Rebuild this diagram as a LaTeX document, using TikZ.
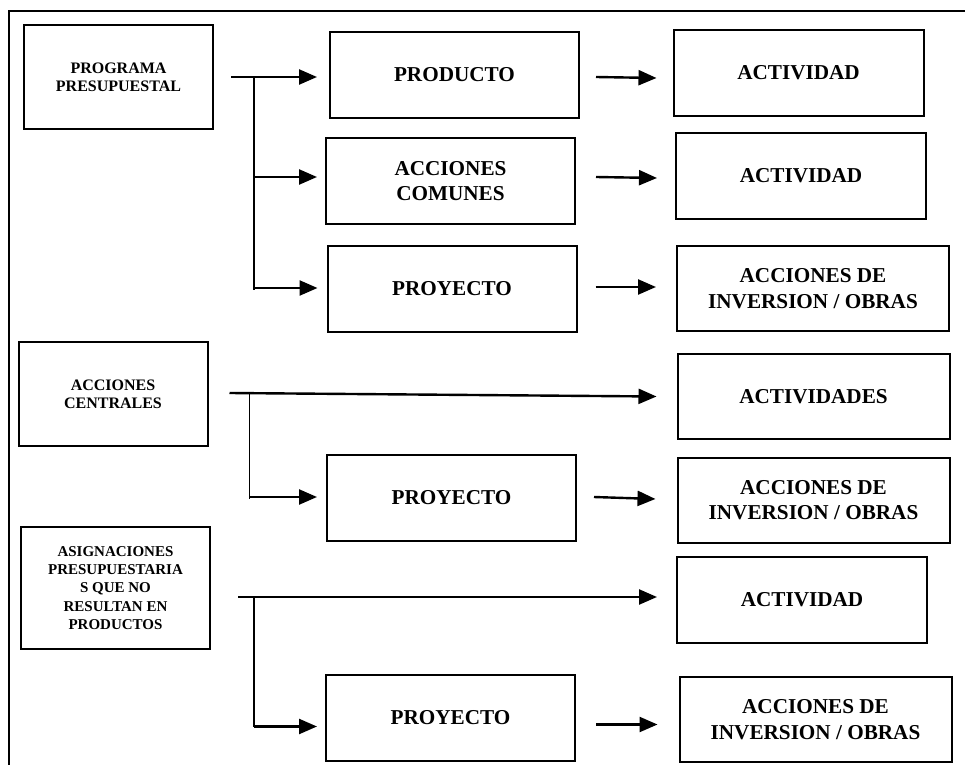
\documentclass[tikz,border=0pt]{standalone}
\usepackage{fontspec}
\setmainfont{Liberation Serif}
\usepackage{tikz}
\usetikzlibrary{shapes,arrows,arrows.meta,positioning,calc}

\begin{document}
\begin{tikzpicture}[
    x=0.5pt, y=-0.5pt,
    box/.style={rectangle, draw, line width=1pt, align=center, inner sep=0pt,
        font=\bfseries\fontsize{10.6}{12.7}\selectfont},
    origen/.style={box, minimum width=94.5pt, minimum height=52pt,
        font=\bfseries\fontsize{8}{9.2}\selectfont},
    medio/.style={box, minimum width=124.5pt, minimum height=43pt},
    fin/.style={box, minimum width=125pt, minimum height=43pt},
    financho/.style={box, minimum width=136pt, minimum height=42.5pt},
    link/.style={line width=1.2pt, -{Triangle[length=9pt, width=7.5pt]}},
    tronco/.style={line width=0.6pt},
    marco/.style={line width=1pt}
]
    \useasboundingbox (0,0) rectangle (965,765);
    % marco exterior
    \draw[marco] (9,790) -- (9,11) -- (980,11);

    % Programa presupuestal
    \node[origen] (prog) at (118.5,77) {PROGRAMA\\PRESUPUESTAL};
    \node[medio] (producto) at (454.5,75) {PRODUCTO};
    \node[medio] (comunes) at (450.5,181) {ACCIONES\\COMUNES};
    \node[medio] (proy1) at (452,289) {PROYECTO};
    \node[fin] (act1) at (798.5,73) {ACTIVIDAD};
    \node[fin] (act2) at (801,176) {ACTIVIDAD};
    \node[financho] (inv1) at (813,288.5) {ACCIONES DE\\INVERSION / OBRAS};

    % Acciones centrales
    \node[origen] (cent) at (113,394) {ACCIONES\\CENTRALES};
    \node[financho] (actd) at (813.5,396.5) {ACTIVIDADES};
    \node[medio] (proy2) at (451.5,498) {PROYECTO};
    \node[financho] (inv2) at (813.5,500) {ACCIONES DE\\INVERSION / OBRAS};

    % Asignaciones
    \node[origen, minimum height=61pt, font=\bfseries\fontsize{7.5}{9.2}\selectfont] (asig) at (115.5,588)
        {ASIGNACIONES\\PRESUPUESTARIA\\S QUE NO\\RESULTAN EN\\PRODUCTOS};
    \node[fin] (act3) at (802,600) {ACTIVIDAD};
    \node[medio] (proy3) at (450.5,717.5) {PROYECTO};
    \node[financho] (inv3) at (815.5,719.5) {ACCIONES DE\\INVERSION / OBRAS};

    % Conectores del programa
    \coordinate (j1) at ([xshift=20pt]prog.east);
    \draw[link] ([xshift=8.5pt]prog.east) -- ([xshift=-6pt]prog.east -| producto.west);
    \draw[tronco] (j1) -- ([yshift=-0.5pt]j1 |- proy1.west);
    \draw[link] ([yshift=2pt]j1 |- comunes.west) -- ([xshift=-4pt,yshift=2pt]comunes.west);
    \draw[link] ([yshift=0.5pt]j1 |- proy1.west) -- ([xshift=-4.5pt,yshift=0.5pt]proy1.west);
    \draw[link] ([xshift=8pt,yshift=-1pt]producto.east) -- ([xshift=-8pt,yshift=-2.5pt]act1.west);
    \draw[link] ([xshift=10pt,yshift=2pt]comunes.east) -- ([xshift=-9pt,yshift=-1pt]act2.west);
    \draw[link] ([xshift=9pt,yshift=1pt]proy1.east) -- ([xshift=-10pt,yshift=0.75pt]inv1.west);

    % Conectores de acciones centrales
    \coordinate (j2) at ([xshift=20.5pt,yshift=0.5pt]cent.east);
    \draw[link] ([xshift=10.5pt,yshift=0.5pt]cent.east) -- ([xshift=-10pt]actd.west);
    \draw[tronco] (j2) -- ([yshift=-0.5pt]j2 |- proy2.west);
    \draw[link] ([yshift=0.5pt]j2 |- proy2.west) -- ([xshift=-4.5pt,yshift=0.5pt]proy2.west);
    \draw[link] ([xshift=8.5pt,yshift=0.5pt]proy2.east) -- ([xshift=-10.5pt,yshift=0.5pt]inv2.west);

    % Conectores de asignaciones
    \coordinate (j3) at ([xshift=21.5pt,yshift=-4.5pt]asig.east);
    \coordinate (j3b) at ([yshift=-4.5pt]j3 |- proy3.west);
    \draw[link] ([xshift=13.5pt,yshift=-4.5pt]asig.east) -- ([xshift=-9.5pt,yshift=1.5pt]act3.west);
    \draw[tronco] (j3) -- (j3b);
    \draw[link] (j3b) -- ([xshift=-4pt,yshift=-4.5pt]proy3.west);
    \draw[link] ([xshift=10pt,yshift=-3.5pt]proy3.east) -- ([xshift=-10.5pt,yshift=-2.5pt]inv3.west);
\end{tikzpicture}
\end{document}
